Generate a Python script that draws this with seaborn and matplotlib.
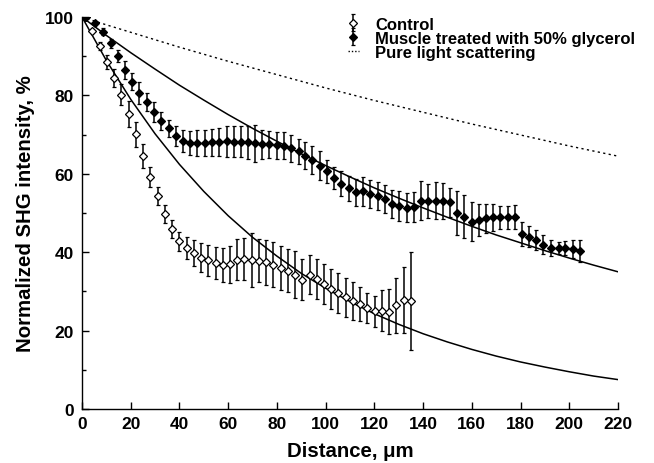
import matplotlib
matplotlib.use("Agg")
import matplotlib.pyplot as plt
import seaborn as sns
import pandas as pd
from matplotlib.ticker import MultipleLocator
from matplotlib.lines import Line2D

# ---- data ----
control_x = [1.3, 4.3, 7.2, 10.2, 13.2, 16.2, 19.1, 22.1, 25.1, 28.0, 31.0, 34.0, 37.0, 39.9,
             42.9, 45.9, 48.8, 51.8, 54.8, 57.7, 60.7, 63.7, 66.6, 69.6, 72.6, 75.6, 78.5, 81.5,
             84.5, 87.4, 90.4, 93.4, 96.3, 99.3, 102.3, 105.2, 108.2, 111.2, 114.2, 117.1, 120.1,
             123.1, 126.0, 129.0, 132.0, 134.9]
control_y = [100.0, 96.5, 92.7, 88.6, 84.5, 80.2, 75.3, 70.1, 64.6, 59.2, 54.3, 49.8, 45.9, 42.8,
             41.1, 39.8, 38.6, 37.9, 37.2, 36.7, 36.9, 38.1, 38.2, 38.0, 37.8, 37.4, 36.8, 36.0,
             35.3, 34.3, 33.0, 34.3, 33.2, 31.9, 30.6, 29.6, 28.5, 27.6, 26.8, 25.8, 24.9,
             25.1, 24.8, 26.5, 27.8, 27.5]
control_err = [0.0, 0.5, 1.0, 1.8, 2.3, 2.6, 3.3, 3.2, 3.0, 2.6, 2.3, 2.3, 2.3, 2.4,
               2.8, 3.2, 3.7, 3.9, 4.0, 4.4, 4.7, 5.3, 5.3, 6.8, 5.5, 5.7, 5.8, 5.7,
               5.5, 6.0, 5.3, 4.9, 5.1, 5.1, 5.1, 5.1, 5.0, 4.9, 4.3, 3.8, 4.0,
               5.3, 5.7, 7.0, 8.3, 12.5]

glyc_x = [1.5, 5.3, 8.7, 11.8, 14.6, 17.7, 20.4, 23.5, 26.5, 29.6, 32.5, 35.6, 38.5, 41.6,
          44.3, 47.3, 50.4, 53.4, 56.4, 59.4, 62.4, 65.1, 68.0, 71.0, 74.0, 76.9, 79.9,
          82.9, 85.8, 89.0, 91.7, 94.5, 97.7, 100.6, 103.6, 106.3, 109.6, 112.5, 115.5, 118.3,
          121.4, 124.3, 127.3, 130.3, 133.3, 136.3, 139.3, 142.2, 145.2, 148.1, 151.1, 153.8,
          156.9, 160.0, 162.8, 165.8, 168.8, 171.7, 174.7, 177.7, 180.5, 183.5, 186.4, 189.4,
          192.4, 195.6, 198.4, 201.4, 204.2]
glyc_y = [100.0, 98.5, 96.3, 93.3, 90.1, 86.6, 83.5, 80.7, 78.2, 75.7, 73.5, 71.6, 69.7, 68.4,
          67.9, 67.9, 67.9, 68.0, 68.1, 68.3, 68.2, 68.2, 68.0, 67.8, 67.5, 67.5, 67.3,
          67.2, 66.5, 65.7, 64.6, 63.6, 62.1, 60.6, 59.0, 57.5, 56.3, 55.3, 55.5, 54.9,
          54.3, 53.6, 52.3, 51.7, 51.4, 51.6, 53.1, 53.1, 53.1, 53.0, 52.7, 50.0,
          49.1, 47.8, 48.2, 48.6, 48.9, 48.9, 48.9, 48.9, 44.6, 44.0, 43.1, 41.9,
          41.1, 41.1, 41.1, 40.8, 40.4]
glyc_err = [0.0, 0.6, 1.0, 1.2, 1.5, 2.3, 2.1, 2.8, 2.3, 2.6, 2.3, 2.1, 2.5, 2.9,
            3.0, 3.3, 3.3, 3.4, 3.6, 4.0, 4.0, 4.0, 4.3, 4.7, 3.6, 3.4, 3.4,
            3.4, 3.4, 3.2, 3.4, 3.6, 3.6, 3.0, 2.8, 3.2, 3.2, 3.4, 3.6, 3.6,
            3.5, 3.6, 3.6, 3.8, 3.7, 3.8, 5.0, 4.3, 4.7, 4.6, 3.8, 5.7,
            5.4, 5.0, 4.0, 3.6, 3.4, 2.9, 3.0, 3.1, 3.1, 2.8, 2.5, 2.4,
            2.0, 1.6, 1.7, 2.2, 2.8]

# fitted / model curves read every 10 um
curve_x = [0, 10, 20, 30, 40, 50, 60, 70, 80, 90, 100, 110, 120, 130, 140, 150, 160, 170,
           180, 190, 200, 210, 220]
fit_control = [100.0, 88.9, 79.0, 70.2, 62.4, 55.5, 49.3, 43.8, 39.0, 34.6, 30.8, 27.4, 24.3,
               21.6, 19.2, 17.1, 15.2, 13.5, 12.0, 10.7, 9.5, 8.4, 7.5]
fit_glycerol = [100.0, 95.3, 90.9, 86.7, 82.6, 78.8, 75.1, 71.6, 68.3, 65.1, 62.1, 59.2, 56.4,
                53.8, 51.3, 48.9, 46.6, 44.4, 42.4, 40.4, 38.5, 36.7, 35.0]
scattering = [100.0, 98.0, 96.1, 94.2, 92.3, 90.5, 88.7, 87.0, 85.3, 83.6, 81.9, 80.3, 78.7,
              77.2, 75.7, 74.2, 72.7, 71.3, 69.9, 68.5, 67.1, 65.8, 64.5]

labels = ["Control", "Muscle treated with 50% glycerol", "Pure light scattering"]
x_ticks = [0, 20, 40, 60, 80, 100, 120, 140, 160, 180, 200, 220]
y_ticks = [0, 20, 40, 60, 80, 100]

# ---- style ----
sns.set_theme(style="ticks")
plt.rcParams["font.family"] = ["Liberation Sans", "DejaVu Sans"]
plt.rcParams["font.weight"] = "bold"
plt.rcParams["axes.labelweight"] = "bold"
for k in ["text.color", "axes.labelcolor", "xtick.color", "ytick.color", "axes.edgecolor"]:
    plt.rcParams[k] = "black"

fig = plt.figure(figsize=(6.54, 4.64), dpi=100)
ax = fig.add_axes([82 / 654, 1 - 410 / 464, 536 / 654, 392 / 464])

curves = pd.DataFrame({"x": curve_x, "fc": fit_control, "fg": fit_glycerol, "sc": scattering})
sns.lineplot(data=curves, x="x", y="fc", ax=ax, color="black", lw=1.1, zorder=2)
sns.lineplot(data=curves, x="x", y="fg", ax=ax, color="black", lw=1.1, zorder=2)
sns.lineplot(data=curves, x="x", y="sc", ax=ax, color="black", lw=1.0,
             linestyle=(0, (1.6, 2.4)), zorder=2)

eb_kw = dict(fmt="D", ms=4.5, mec="black", mew=0.9, ecolor="black", elinewidth=1.1,
             capsize=1.7, capthick=0.9, zorder=3)
h_c = ax.errorbar(control_x, control_y, yerr=control_err, mfc="white", **eb_kw)
h_g = ax.errorbar(glyc_x, glyc_y, yerr=glyc_err, mfc="black", **eb_kw)
h_s = Line2D([], [], color="black", lw=1.0, linestyle=(0, (1.0, 1.4)))

ax.set_xlim(0, 220)
ax.set_ylim(0, 100)
ax.set_xticks(x_ticks)
ax.set_yticks(y_ticks)
ax.yaxis.set_minor_locator(MultipleLocator(10))
ax.tick_params(axis="both", which="both", direction="in", color="black", width=1.0,
               labelcolor="black")
ax.tick_params(axis="x", which="major", length=5, pad=5, labelsize=12.5)
ax.tick_params(axis="y", which="major", length=5, pad=6, labelsize=12.5)
ax.tick_params(axis="y", which="minor", length=3)
for t in ax.get_xticklabels() + ax.get_yticklabels():
    t.set_fontweight("bold")
for s in ["top", "right"]:
    ax.spines[s].set_visible(False)
for s in ["left", "bottom"]:
    ax.spines[s].set_color("black")
    ax.spines[s].set_linewidth(1.0)

ax.set_xlabel("Distance, \u03bcm", fontsize=14.7, fontweight="bold", labelpad=7, color="black")
ax.set_ylabel("Normalized SHG intensity, %", fontsize=14.7, fontweight="bold", labelpad=7,
              color="black")

leg = ax.legend([h_c, h_g, h_s], labels, loc="upper left", bbox_to_anchor=(0.4963, 1.001),
                frameon=False, fontsize=12.0, handlelength=0.65, handletextpad=0.97,
                labelspacing=-0.06, borderpad=0, borderaxespad=0)
for t in leg.get_texts():
    t.set_fontweight("bold")
    t.set_color("black")

fig.savefig("out.png", dpi=100)
